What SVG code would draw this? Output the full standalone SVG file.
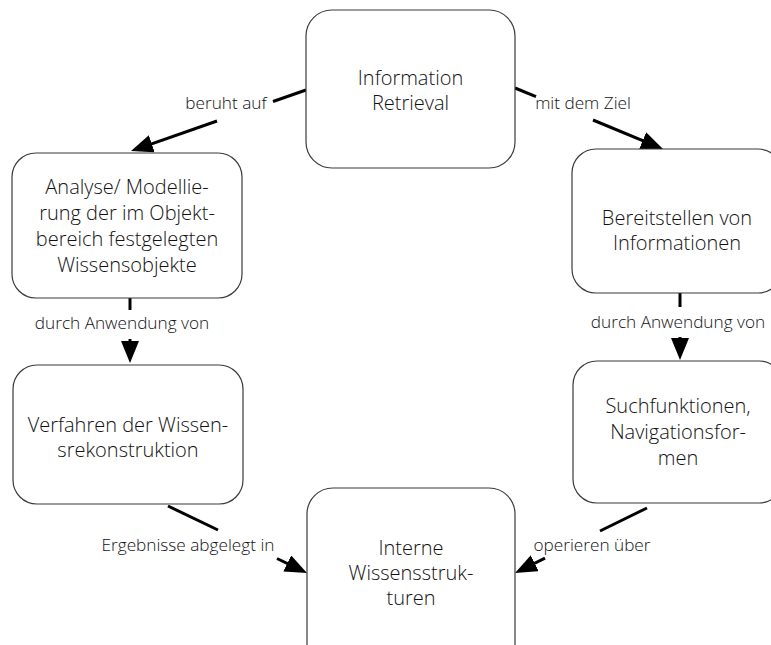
<svg xmlns="http://www.w3.org/2000/svg" width="771" height="645" viewBox="0 0 771 645">
<defs>
<style>
.box{fill:#fff;stroke:#3a3a3a;stroke-width:1.2}
.nt{font-family:"Open Sans","Liberation Sans",sans-serif;font-size:20px;font-weight:300;fill:#111;text-anchor:middle}
.lb{font-family:"Open Sans","Liberation Sans",sans-serif;font-size:17.2px;font-weight:300;fill:#111;text-anchor:middle}
.ln{stroke:#000;stroke-width:3;fill:none}
</style>
<marker id="ah" markerUnits="userSpaceOnUse" markerWidth="22" markerHeight="18" refX="13" refY="9" orient="auto">
<path d="M0,0 L22,9 L0,18 z" fill="#000"/>
</marker>
</defs>
<rect width="771" height="645" fill="#fff"/>
<g id="connectors">
<line class="ln" x1="306" y1="90" x2="273" y2="101.5"/>
<line class="ln" x1="217" y1="121" x2="139.5" y2="148.1" marker-end="url(#ah)"/>
<line class="ln" x1="515" y1="88" x2="536" y2="96.7"/>
<line class="ln" x1="593" y1="120" x2="654.7" y2="145.6" marker-end="url(#ah)"/>
<line class="ln" x1="130" y1="298" x2="130" y2="310"/>
<line class="ln" x1="130" y1="339" x2="130" y2="354" marker-end="url(#ah)"/>
<line class="ln" x1="680" y1="293" x2="680" y2="307"/>
<line class="ln" x1="680" y1="337" x2="680" y2="351" marker-end="url(#ah)"/>
<line class="ln" x1="168" y1="506" x2="218" y2="530"/>
<line class="ln" x1="277" y1="558.5" x2="298.9" y2="569.1" marker-end="url(#ah)"/>
<line class="ln" x1="647" y1="508" x2="600" y2="531"/>
<line class="ln" x1="545" y1="558.2" x2="523.1" y2="569.0" marker-end="url(#ah)"/>
<text class="lb" x="226" y="109">beruht auf</text>
<text class="lb" x="583" y="109">mit dem Ziel</text>
<text class="lb" x="122" y="329">durch Anwendung von</text>
<text class="lb" x="678" y="328">durch Anwendung von</text>
<text class="lb" x="188" y="551">Ergebnisse abgelegt in</text>
<text class="lb" x="592" y="551">operieren über</text>
</g>
<g id="info-retrieval">
<rect class="box" x="306" y="10" width="209" height="158" rx="26"/>
<text class="nt" x="410.5" y="85">Information</text>
<text class="nt" x="410.5" y="110">Retrieval</text>
</g>
<g id="analyse">
<rect class="box" x="12" y="153" width="230" height="145" rx="24"/>
<text class="nt" x="127" y="194">Analyse/ Modellie-</text>
<text class="nt" x="127" y="220">rung der im Objekt-</text>
<text class="nt" x="127" y="246">bereich festgelegten</text>
<text class="nt" x="127" y="272">Wissensobjekte</text>
</g>
<g id="bereitstellen">
<rect class="box" x="572" y="149" width="210" height="144" rx="24"/>
<text class="nt" x="677" y="225">Bereitstellen von</text>
<text class="nt" x="677" y="250">Informationen</text>
</g>
<g id="verfahren">
<rect class="box" x="13" y="365" width="230" height="139" rx="24"/>
<text class="nt" x="128" y="432">Verfahren der Wissen-</text>
<text class="nt" x="128" y="457">srekonstruktion</text>
</g>
<g id="suchfunktionen">
<rect class="box" x="573" y="361" width="210" height="142" rx="24"/>
<text class="nt" x="678" y="413">Suchfunktionen,</text>
<text class="nt" x="678" y="439">Navigationsfor-</text>
<text class="nt" x="678" y="465">men</text>
</g>
<g id="interne">
<rect class="box" x="307" y="488" width="208" height="190" rx="26"/>
<text class="nt" x="411" y="555">Interne</text>
<text class="nt" x="411" y="580">Wissensstruk-</text>
<text class="nt" x="411" y="605">turen</text>
</g>
</svg>
